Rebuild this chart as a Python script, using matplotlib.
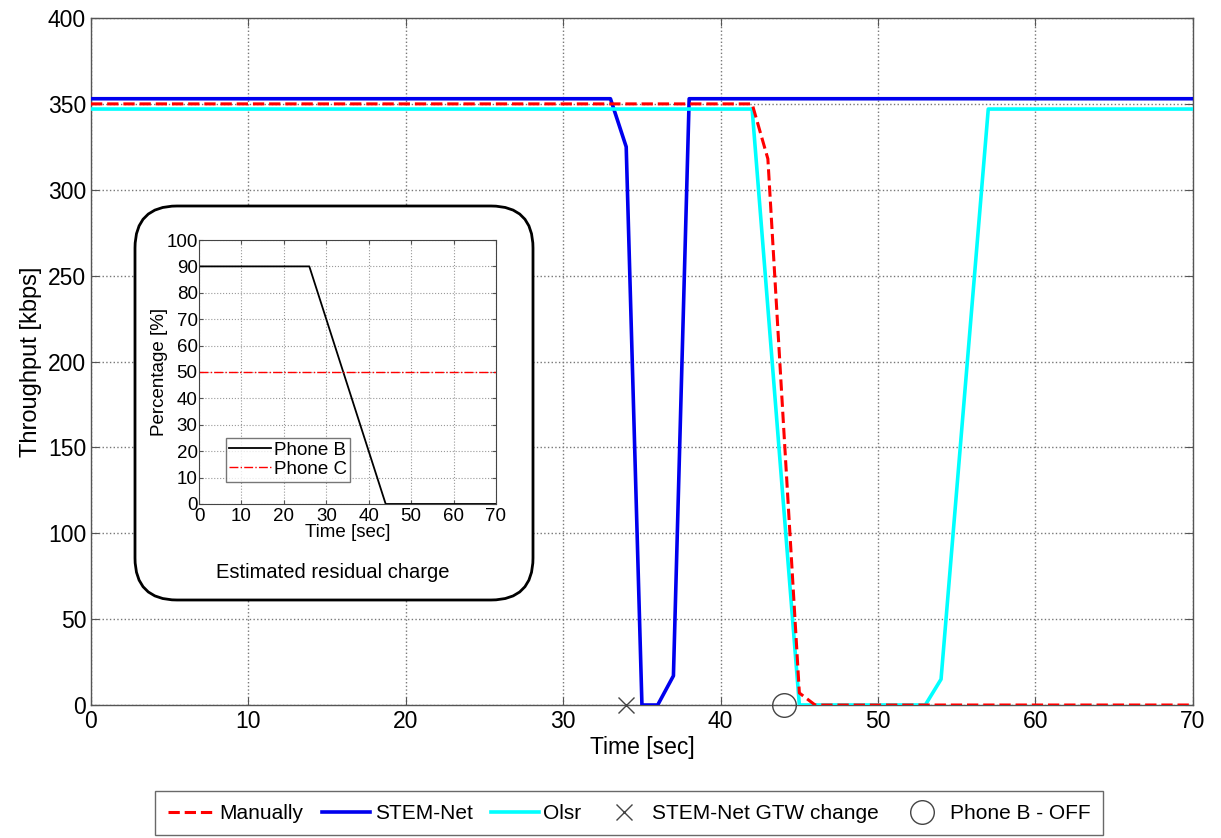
import matplotlib
matplotlib.use("Agg")
import matplotlib.pyplot as plt
from matplotlib.patches import FancyBboxPatch

# main throughput curves (time [sec], kbps)
man_t = [0, 42, 43, 44, 45, 46, 70]
man_y = [350, 350, 318, 162, 7, 0, 0]
stem_t = [0, 33, 34, 35, 36, 37, 38, 70]
stem_y = [353, 353, 325, 0, 0, 17, 353, 353]
olsr_t = [0, 42, 45, 53, 54, 57, 70]
olsr_y = [347, 347, 0, 0, 15, 347, 347]
gtw_t, gtw_y = [34], [0]
off_t, off_y = [44], [0]

# inset: residual charge
phB_t = [0, 26, 44, 70]
phB_y = [90, 90, 0, 0]
phC_t = [0, 70]
phC_y = [50, 50]

plt.rcParams['font.family'] = ['Liberation Sans', 'DejaVu Sans']

fig = plt.figure(figsize=(12.21, 8.38), dpi=100)
ax = fig.add_axes([0.0745, 0.1587, 0.9025, 0.8198])

ax.plot(man_t, man_y, color='red', ls='--', lw=2.2, label='Manually', zorder=4)
ax.plot(stem_t, stem_y, color='#0000ee', lw=2.6, label='STEM-Net', zorder=3)
ax.plot(olsr_t, olsr_y, color='cyan', lw=2.6, label='Olsr', zorder=3)
ax.plot(gtw_t, gtw_y, ls='none', marker='x', ms=12, mew=1.0, color='#444444',
        label='STEM-Net GTW change', clip_on=False, zorder=5)
ax.plot(off_t, off_y, ls='none', marker='o', ms=17, mfc='none', mew=1.0, color='#444444',
        label='Phone B - OFF', clip_on=False, zorder=5)

ax.set_xlim(0, 70)
ax.set_ylim(0, 400)
ax.set_xticks(range(0, 71, 10))
ax.set_yticks(range(0, 401, 50))
ax.grid(True, ls=':', color='#777777', lw=1)
ax.tick_params(direction='in', labelsize=16.5, length=6, top=True, right=True,
               color='#555555')
ax.set_xlabel('Time [sec]', fontsize=16.5, labelpad=2)
ax.set_ylabel('Throughput [kbps]', fontsize=17, labelpad=4)
for s in ax.spines.values():
    s.set_linewidth(1.0)
    s.set_color('#555555')

leg = fig.legend(handles=ax.get_lines(), loc='lower center', bbox_to_anchor=(0.5152, 0.003),
                 ncol=5, frameon=True, fancybox=False, edgecolor='#444444',
                 handlelength=2.3, handletextpad=0.2, columnspacing=0.9, borderpad=0.6,
                 borderaxespad=0,
                 prop={'family': ['Liberation Sans Narrow', 'Liberation Sans'], 'size': 15})
leg.get_frame().set_linewidth(1.0)

# rounded box behind inset
box = FancyBboxPatch((1.35, 2.38), 3.98, 3.94, boxstyle='round,pad=0,rounding_size=0.42',
                     transform=fig.dpi_scale_trans, facecolor='white', edgecolor='black',
                     lw=2.0, zorder=10)
fig.patches.append(box)

ins = fig.add_axes([0.163, 0.3986, 0.2432, 0.315], zorder=11)
ins.plot(phB_t, phB_y, color='black', lw=1.3, label='Phone B')
ins.plot(phC_t, phC_y, color='red', ls='-.', lw=1.0, label='Phone C')
ins.set_xlim(0, 70)
ins.set_ylim(0, 100)
ins.set_xticks(range(0, 71, 10))
ins.set_yticks(range(0, 101, 10))
ins.grid(True, ls=':', color='#999999', lw=0.8)
ins.tick_params(direction='in', labelsize=13.5, length=3, pad=1, top=True, right=True,
                color='#555555')
ins.tick_params(axis='x', pad=3)
ins.set_xlabel('Time [sec]', fontsize=13.5, labelpad=-1)
ins.set_ylabel('Percentage [%]', fontsize=13.5, labelpad=-1)
for s in ins.spines.values():
    s.set_color('#444444')
ileg = ins.legend(loc='lower left', bbox_to_anchor=(0.09, 0.085), fancybox=False,
                  edgecolor='#555555', fontsize=13.5, handlelength=2.2,
                  handletextpad=0.15, borderpad=0.2, labelspacing=0.1, borderaxespad=0)
ileg.get_frame().set_linewidth(1.0)
fig.text(0.2727, 0.3165, 'Estimated residual charge', fontsize=14.5, ha='center', va='center',
         zorder=12)

fig.savefig('out.png', dpi=100)
